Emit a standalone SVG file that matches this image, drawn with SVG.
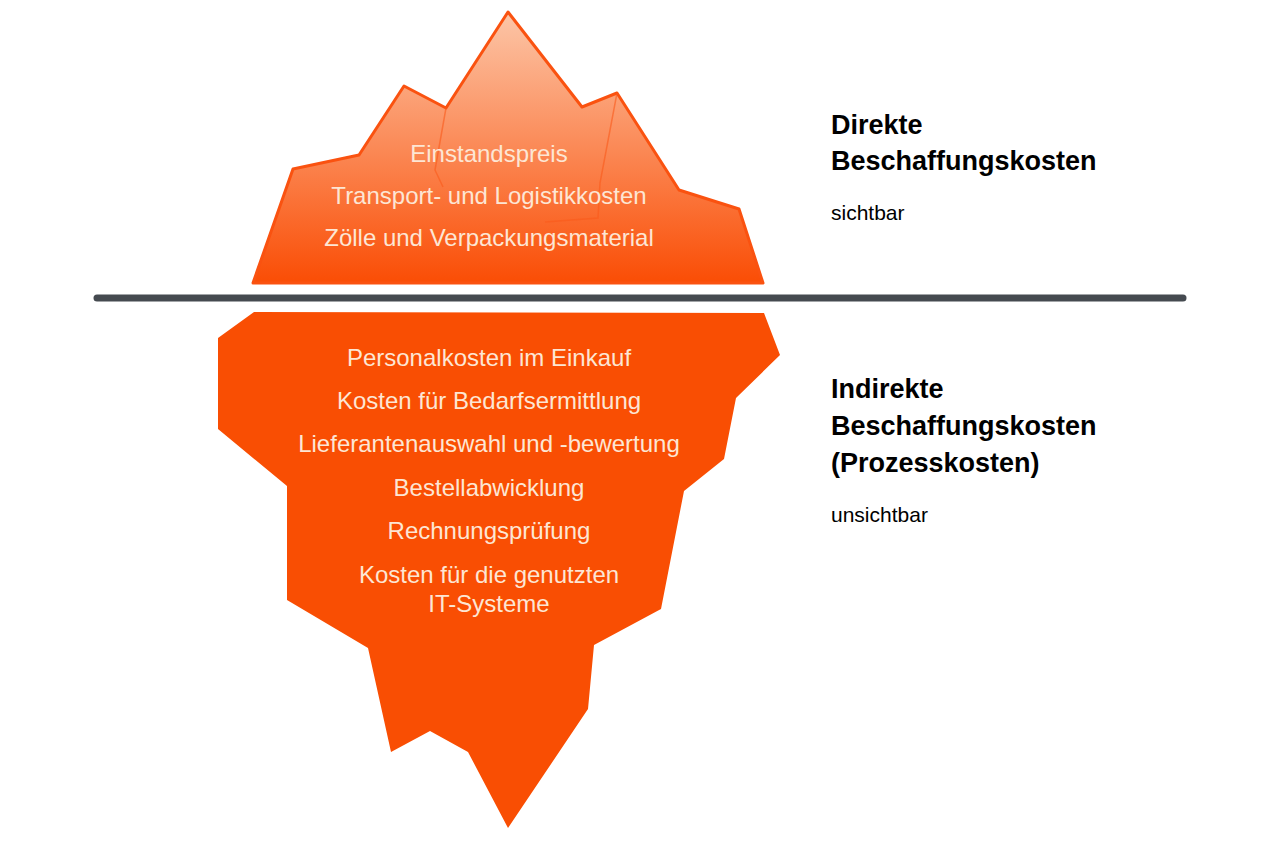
<svg xmlns="http://www.w3.org/2000/svg" width="1280" height="841" viewBox="0 0 1280 841">
<style>
.it{font-family:"Liberation Sans",Arial,sans-serif;font-size:24px;fill:#fde6d4;text-anchor:middle}
.h{font-family:"Liberation Sans",Arial,sans-serif;font-size:27px;font-weight:bold;fill:#000}
.s{font-family:"Liberation Sans",Arial,sans-serif;font-size:21px;fill:#000}
</style>
<defs>
<linearGradient id="g" x1="0" y1="0" x2="0" y2="1">
<stop offset="0" stop-color="#fcc6a8"/><stop offset="1" stop-color="#fa4d05"/>
</linearGradient>
</defs>
<rect width="1280" height="841" fill="#fff"/>
<g id="top">
<path d="M253,283 L293,169 L359,155 L404,86 L446,108 L508,12 L582,107 L617,93 L679,190 L739,209 L763,283 Z" fill="url(#g)" stroke="#fa5210" stroke-width="3" stroke-linejoin="round"/>
<path d="M446,108 L435,170 L443,187 M617,93 L600,183 L598,218 L545,222" fill="none" stroke="#fa5a1a" stroke-width="1.5" opacity="0.6"/>
<text class="it" x="489" y="162">Einstandspreis</text>
<text class="it" x="489" y="204">Transport- und Logistikkosten</text>
<text class="it" x="489" y="246">Zölle und Verpackungsmaterial</text>
</g>
<g id="connectors">
<line x1="97" y1="298" x2="1183" y2="298" stroke="#454a50" stroke-width="7" stroke-linecap="round"/>
</g>
<g id="bottom">
<path d="M254,312 L764,313 L780,355 L736,398 L724,459 L684,491 L661,609 L594,645 L588,709 L508,828 L468,752 L430,731 L391,752 L368,648 L287,600 L287,486 L218,429 L218,338 Z" fill="#f94e03"/>
<text class="it" x="489" y="366">Personalkosten im Einkauf</text>
<text class="it" x="489" y="409">Kosten für Bedarfsermittlung</text>
<text class="it" x="489" y="452">Lieferantenauswahl und -bewertung</text>
<text class="it" x="489" y="496">Bestellabwicklung</text>
<text class="it" x="489" y="539">Rechnungsprüfung</text>
<text class="it" x="489" y="583">Kosten für die genutzten</text>
<text class="it" x="489" y="612">IT-Systeme</text>
</g>
<g id="label-direct">
<text class="h" x="831" y="134">Direkte</text>
<text class="h" x="831" y="170">Beschaffungskosten</text>
<text class="s" x="831" y="220">sichtbar</text>
</g>
<g id="label-indirect">
<text class="h" x="831" y="398">Indirekte</text>
<text class="h" x="831" y="435">Beschaffungskosten</text>
<text class="h" x="831" y="472">(Prozesskosten)</text>
<text class="s" x="831" y="522">unsichtbar</text>
</g>
</svg>
